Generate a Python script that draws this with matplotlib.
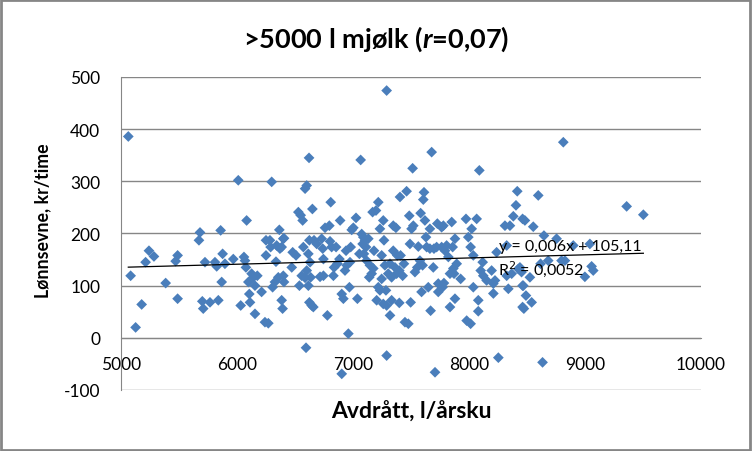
import matplotlib.pyplot as plt
from matplotlib.patches import Rectangle

plt.rcParams['font.family'] = ['Lato', 'DejaVu Sans']
plt.rcParams['mathtext.fontset'] = 'custom'
plt.rcParams['mathtext.it'] = 'Lato:bold:italic'
plt.rcParams['mathtext.rm'] = 'Lato:bold'
plt.rcParams['axes.unicode_minus'] = False

# Avdrått (l/årsku) and lønnsevne (kr/time)
avdratt = [
    5063, 5083, 5126, 5178, 5212, 5241, 5284, 5385, 5471, 5488, 5488, 5672,
    5681, 5701, 5709, 5724,
    5767, 5810, 5825, 5839, 5859, 5876, 5868, 5896, 5968, 6011, 6032, 6060,
    6069, 6077, 6083, 6098, 6106, 6112, 6126, 6141, 6155, 6155, 6175, 6212,
    6241, 6270, 6250, 6250, 6284, 6290, 6299, 6307, 6327, 6336, 6342, 6356,
    6365, 6370, 6385, 6393, 6399, 6399,
    6405, 6385, 6405, 6472, 6480, 6509, 6529, 6549, 6566, 6538, 6558, 6572,
    6587, 6601, 6621, 6587, 6601, 6615, 6615, 6624, 6630, 6635, 6624, 6644,
    6658, 6650, 6664, 6687, 6595, 6730, 6739, 6745, 6716, 6745, 6759, 6779,
    6796, 6808, 6802, 6816, 6831, 6837, 6854, 6866, 6883, 6889, 6903, 6917,
    6931, 6940, 6960, 6969, 6980, 6989, 7003, 7026, 7038, 7055, 7066, 7075,
    7083, 6903, 6974, 6946,
    7089, 7103, 7112, 7094, 7132, 7117, 7146, 7161, 7140, 7175, 7181, 7169,
    7198, 7218, 7232, 7247, 7261, 7267, 7218, 7232, 7247, 7204, 7261, 7290,
    7284, 7290, 7290, 7319, 7333, 7275, 7304, 7319, 7333, 7347, 7347, 7362,
    7370, 7376, 7382, 7399, 7399, 7405, 7410, 7428, 7439, 7448, 7462, 7477,
    7491, 7485, 7497, 7505, 7514, 7520, 7534, 7554, 7563, 7577, 7583, 7591,
    7600, 7606, 7612, 7620, 7629, 7635, 7649, 7663, 7669, 7678, 7663, 7692,
    7707, 7698, 7721, 7727, 7735, 7735, 7764, 7772,
    7779, 7764, 7793, 7807, 7822, 7851, 7859, 7879, 7865, 7871, 7836, 7894,
    7879, 7836, 7928, 7784, 7974, 7994, 8023, 8014, 8037, 7980, 8014, 8037,
    8066, 8080, 8080, 8089, 8101, 8118, 8123, 8152, 8195, 8210, 8210, 8224,
    8238, 8253, 8310, 8325, 8339, 8353, 8325, 8368, 8382, 8405, 8416, 8425,
    8439, 8462, 8462, 8462,
    8453, 8468, 8473, 8482, 8491, 8525, 8540, 8554, 8597, 8617, 8634, 8646,
    8683, 8755, 8813, 8798, 8827, 8899, 8999, 9042, 9057, 9071,
    9359, 9503,
]
lonnsevne = [
    386, 119, 20, 64, 145, 167, 156, 105, 147, 158, 75, 187,
    202, 70, 56, 145,
    68, 145, 137, 72, 206, 161, 107, 142, 151, 302, 62, 155,
    148, 135, 225, 107, 84, 68, 123, 116, 100, 46, 119, 88,
    30, 28, 158, 187, 187, 174, 299, 97, 107, 146, 177, 116,
    207, 171, 72, 56, 190, 119,
    191, 174, 107, 135, 164, 158, 241, 235, 225, 100, 119, 174,
    286, 292, 345, 115, 129, 161, 100, 187, 145, 116, 68, 62,
    59, 247, 187, 180, -19, 190, 171, 151, 117, 119, 211, 43,
    215, 260, 185, 174, 119, 135, 174, 142, 151, 225, 84, 75,
    129, 167, 8, 97, 174, 207, 211, 230, 75, 161, 341, 199,
    180, -69, 145, 139,
    193, 187, 174, 161, 190, 148, 139, 123, 116, 133, 167, 241,
    244, 260, 209, 158, 225, 187, 97, 91, 113, 72, 65, 62,
    91, 474, -34, 43, 72, 139, 123, 142, 116, 167, 215, 135,
    211, 123, 158, 129, 67, 270, 158, 119, 142, 30, 281, 27,
    180, 234, 68, 209, 325, 215, 126, 135, 175, 148, 239, 88,
    139, 265, 279, 225, 193, 174, 97, 209, 52, 356, 171, 135,
    -66, 171, 174, 219, 104, 88, 212, 97,
    215, 174, 167, 177, 155, 222, 174, 190, 133, 123, 123, 142,
    75, 59, 113, 105, 228, 193, 209, 174, 158, 33, 27, 97,
    228, 72, 51, 321, 129, 145, 119, 110, 129, 104, 85, 110,
    164, -38, 215, 177, 94, 215, 119, 123, 233, 254, 281, 132,
    135, 228, 100, 59,
    126, 100, 56, 225, 81, 116, 68, 213, 273, 142, -47, 196,
    148, 190, 375, 148, 148, 177, 117, 180, 137, 129,
    252, 236,
]

# trendline from the chart label
slope = 0.006
intercept = 105.11

fig = plt.figure(figsize=(7.52, 4.52), dpi=100)
ax = fig.add_axes([121 / 752, 1 - 391 / 452, 580 / 752, 313 / 452])

ax.scatter(avdratt, lonnsevne, marker='D', s=30, color='#4a7ebb',
           edgecolors='none', zorder=3)

x_line = [min(avdratt), max(avdratt)]
y_line = [slope * x + intercept for x in x_line]
ax.plot(x_line, y_line, color='black', lw=0.9, zorder=4)

ax.text(8255, 176, 'y = 0,006x + 105,11', fontsize=11.5, va='center', zorder=5)
ax.text(8250, 133, 'R$^2$ = 0,0052', fontsize=11.5, va='center', zorder=5,
        math_fontfamily='dejavusans')

ax.set_xlim(5000, 10000)
ax.set_ylim(-100, 500)
ax.set_xticks(range(5000, 10001, 1000))
ax.set_yticks(range(-100, 501, 100))
ax.yaxis.grid(True, color='#868686', lw=1)
ax.set_axisbelow(True)
ax.tick_params(length=0, labelsize=12.5)
ax.tick_params(axis='y', pad=15)
ax.tick_params(axis='x', pad=13)

for side in ['top', 'right']:
    ax.spines[side].set_visible(False)
ax.spines['bottom'].set_position(('data', 0))
ax.spines['bottom'].set_color('#868686')
ax.spines['left'].set_color('#868686')

fig.text(43 / 752, 1 - 221 / 452, 'Lønnsevne, kr/time', fontsize=12.8,
         fontweight='bold', rotation=90, ha='center', va='center')
fig.text(411 / 752, 1 - 412 / 452, 'Avdrått, l/årsku', fontsize=16.5,
         fontweight='bold', ha='center', va='center')
fig.text(376 / 752, 1 - 39 / 452, '>5000 l mjølk ($r$=0,07)', fontsize=19.5,
         fontweight='bold', ha='center', va='center')

fig.patches.append(Rectangle((0.001, 0.002), 0.997, 0.996, transform=fig.transFigure,
                             fill=False, edgecolor='#868686', lw=2))

fig.savefig('out.png', dpi=100)
